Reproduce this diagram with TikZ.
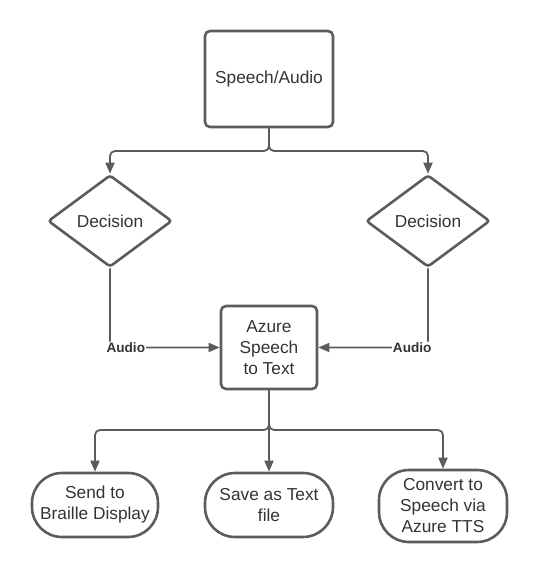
\documentclass[tikz,border=0pt]{standalone}
\usepackage{fontspec}
\setmainfont{Liberation Sans}
\usetikzlibrary{shapes.geometric,arrows.meta}
\definecolor{linegray}{HTML}{5C5C5C}
\definecolor{textgray}{HTML}{333333}
\begin{document}
\begin{tikzpicture}[x=1pt, y=-1pt,
  every node/.style={text=textgray, font=\fontsize{17.3}{21}\selectfont, align=center},
  box/.style={rectangle, draw=linegray, line width=2.6pt, rounded corners=5pt, inner sep=0pt},
  decision/.style={diamond, draw=linegray, line width=2.6pt, rounded corners=3pt, inner sep=0pt, minimum width=124pt, minimum height=92pt},
  term/.style={rectangle, draw=linegray, line width=2.6pt, rounded corners=30pt, inner sep=0pt},
  lbl/.style={fill=white, inner sep=1pt, font=\fontsize{13.6}{15}\selectfont\bfseries},
  conn/.style={draw=linegray, line width=1.8pt, rounded corners=5pt, -{Triangle[length=11pt, width=9pt]}}]
\useasboundingbox (0,0) rectangle (538,573);
\node (speech)[box, minimum width=128pt, minimum height=96pt] at (269, 79) {Speech/Audio};
\node (dL)[decision] at (110, 221) {Decision};
\node (dR)[decision] at (428, 221) {Decision};
\node (azure)[box, minimum width=96pt, minimum height=83pt] at (269, 347.5) {Azure\\Speech\\to Text};
\node (send)[term, minimum width=126pt, minimum height=64pt] at (95, 505) {Send to\\Braille Display};
\node (save)[term, minimum width=128pt, minimum height=64pt] at (269, 505) {Save as Text\\file};
\node (tts)[term, minimum width=128pt, minimum height=72pt] at (443, 506) {Convert to\\Speech via\\Azure TTS};
\coordinate (split1) at (269, 151);
\coordinate (split2) at (269, 430);
\draw[conn] (speech.south) -- (split1) -| (dL.north);
\draw[conn] (speech.south) -- (split1) -| (dR.north);
\draw[conn] (dL.south) |- (azure.west) node[lbl, pos=0.572] {Audio};
\draw[conn] (dR.south) |- (azure.east) node[lbl, pos=0.572] {Audio};
\draw[conn] (azure.south) -- (split2) -| (send.north);
\draw[conn] (azure.south) -- (save.north);
\draw[conn] (azure.south) -- (split2) -| (tts.north);
\end{tikzpicture}
\end{document}
